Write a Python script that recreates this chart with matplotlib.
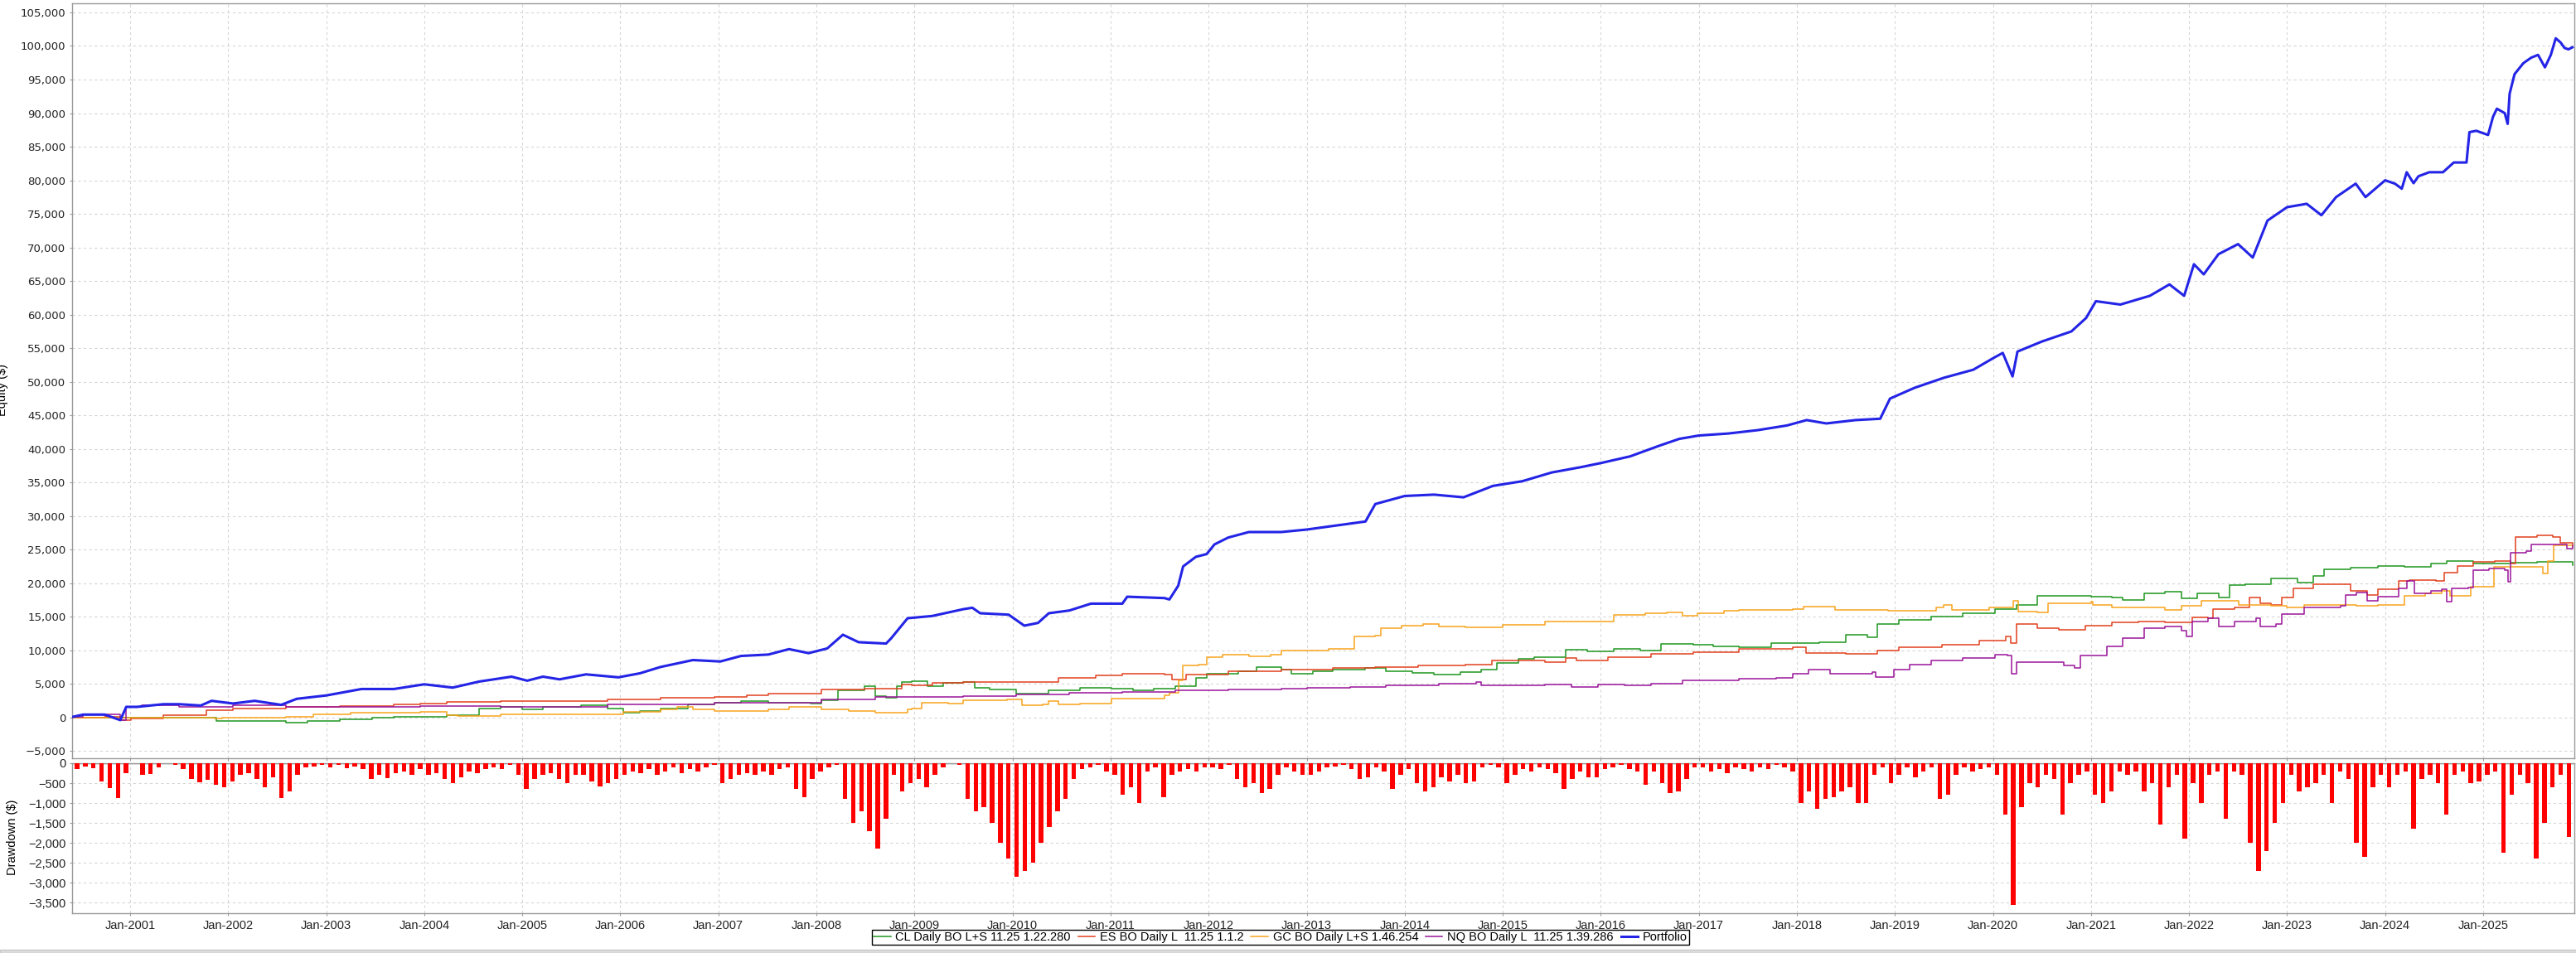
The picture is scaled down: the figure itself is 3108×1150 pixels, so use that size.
import numpy as np
import matplotlib
matplotlib.use('Agg')
import matplotlib.pyplot as plt
import matplotlib.ticker as ticker
from matplotlib.lines import Line2D
from matplotlib.patches import Rectangle

plt.rcParams['font.family'] = ['Liberation Sans', 'DejaVu Sans']

# ---- equity curves (decimal year, $) ----
cl_x = [2000.41, 2001.86, 2001.88, 2002.27, 2002.59, 2002.81, 2003.14, 2003.47, 2003.69, 2004.23,
        2004.56, 2004.78, 2005.0, 2005.21, 2005.6, 2005.87, 2006.03, 2006.2, 2006.41, 2006.69,
        2006.96, 2007.23, 2007.51, 2007.94, 2008.05, 2008.22, 2008.49, 2008.6, 2008.71, 2008.82,
        2008.87, 2008.97, 2009.13, 2009.29, 2009.5, 2009.61, 2009.77, 2010.04, 2010.37, 2010.69,
        2011.01, 2011.23, 2011.44, 2011.66, 2011.87, 2011.98, 2012.3, 2012.49, 2012.74, 2012.84,
        2013.06, 2013.27, 2013.6, 2013.81, 2014.08, 2014.3, 2014.57, 2014.78, 2014.94, 2015.16,
        2015.32, 2015.64, 2015.86, 2016.13, 2016.4, 2016.61, 2016.94, 2017.15, 2017.41, 2017.74,
        2018.23, 2018.5, 2018.72, 2018.82, 2019.04, 2019.37, 2019.69, 2020.02, 2020.24, 2020.45,
        2021.0, 2021.21, 2021.32, 2021.54, 2021.75, 2021.92, 2022.08, 2022.3, 2022.41, 2022.57,
        2022.84, 2023.11, 2023.27, 2023.38, 2023.65, 2023.93, 2024.2, 2024.47, 2024.63, 2024.9,
        2025.28, 2025.55, 2025.91]
cl_y = [0, 0, -450, -530, -780, -450, -250, 0, 80, 370,
        1400, 1600, 1190, 1600, 1890, 1400, 780, 980, 1400, 2010,
        2210, 2420, 2210, 2090, 2620, 4060, 4670, 3240, 2910, 4670,
        5290, 5370, 4670, 5210, 5290, 4470, 4140, 3570, 4060, 4470,
        4260, 4060, 4260, 4670, 5900, 6520, 6850, 7540, 7130, 6520,
        6930, 7130, 7340, 6850, 6600, 6440, 6720, 7130, 8160, 8770,
        8980, 10130, 9880, 10200, 10000, 11030, 10820, 10620, 10450, 11150,
        11270, 12300, 11970, 13940, 14550, 15090, 15580, 16200, 16810, 18120,
        18040, 17840, 17550, 18450, 18780, 17710, 18450, 17920, 19680, 19800,
        20710, 20090, 21120, 22020, 22350, 22630, 22470, 22960, 23290, 22960,
        23040, 23170, 22670]

es_x = [2000.41, 2000.74, 2000.9, 2001.01, 2001.34, 2001.78, 2002.05, 2002.59, 2003.14, 2003.69,
        2003.96, 2004.23, 2004.78, 2005.32, 2005.87, 2006.41, 2006.96, 2007.29, 2007.51, 2008.05,
        2008.49, 2008.87, 2008.97, 2009.18, 2009.5, 2010.2, 2010.47, 2010.85, 2011.12, 2011.55,
        2011.63, 2011.77, 2012.2, 2012.74, 2013.27, 2013.7, 2014.14, 2014.62, 2014.89, 2015.43,
        2015.64, 2015.75, 2016.07, 2016.51, 2016.94, 2017.41, 2017.96, 2018.09, 2018.5, 2018.82,
        2019.04, 2019.48, 2019.86, 2020.13, 2020.18, 2020.24, 2020.45, 2020.67, 2020.94, 2021.21,
        2021.48, 2021.75, 2022.03, 2022.19, 2022.24, 2022.46, 2022.62, 2022.73, 2022.84, 2022.95,
        2023.06, 2023.27, 2023.55, 2023.65, 2023.82, 2023.93, 2024.14, 2024.25, 2024.52, 2024.6,
        2024.74, 2024.9, 2025.12, 2025.28, 2025.33, 2025.55, 2025.71, 2025.79, 2025.91]
es_y = [0, 100, -370, -100, 370, 1100, 1400, 1600, 1760, 1930,
        2090, 2340, 2420, 2500, 2670, 2950, 3100, 3320, 3570, 4140,
        4350, 4880, 4800, 5210, 5290, 5290, 5900, 6310, 6520, 6440,
        5700, 6440, 6850, 7130, 7340, 7540, 7750, 7950, 8570, 8240,
        8900, 8570, 8980, 9470, 9800, 10200, 10450, 9640, 9510, 10040,
        10450, 10870, 11480, 12100, 11150, 13940, 13330, 13120, 13740, 14150,
        14350, 14150, 14970, 14760, 16200, 16400, 17840, 17020, 16810, 17840,
        19270, 19880, 19880, 18860, 18250, 19060, 20300, 20500, 20300, 21530,
        22550, 23250, 23370, 23000, 26860, 27140, 26860, 26040, 25830]

gc_x = [2000.41, 2001.86, 2001.94, 2002.59, 2002.87, 2003.25, 2003.69, 2003.96, 2004.23, 2004.34,
        2004.78, 2005.87, 2006.03, 2006.41, 2006.58, 2006.74, 2006.96, 2007.51, 2007.72, 2008.05,
        2008.33, 2008.6, 2008.87, 2008.93, 2008.97, 2009.07, 2009.34, 2009.5, 2009.94, 2010.1,
        2010.31, 2010.37, 2010.47, 2010.69, 2011.01, 2011.55, 2011.6, 2011.69, 2011.74, 2011.9,
        2011.98, 2012.14, 2012.41, 2012.63, 2012.74, 2013.22, 2013.46, 2013.49, 2013.7, 2013.76,
        2013.97, 2014.19, 2014.35, 2014.62, 2015.0, 2015.43, 2015.97, 2016.13, 2016.45, 2016.67,
        2016.83, 2016.99, 2017.26, 2017.41, 2017.96, 2018.07, 2018.39, 2018.93, 2019.42, 2019.5,
        2019.58, 2019.96, 2020.21, 2020.26, 2020.45, 2020.56, 2021.0, 2021.02, 2021.21, 2021.7,
        2021.75, 2021.92, 2022.13, 2022.41, 2022.51, 2022.84, 2023.0, 2023.17, 2023.71, 2023.93,
        2024.14, 2024.2, 2024.41, 2024.58, 2024.66, 2024.85, 2024.87, 2025.06, 2025.11, 2025.5,
        2025.61, 2025.66, 2025.72, 2025.91]
gc_y = [0, -160, 0, 80, 450, 780, 700, 900, 370, 250,
        450, 490, 900, 1190, 1600, 1190, 980, 1190, 1600, 1190,
        980, 780, 780, 1270, 1390, 2210, 2090, 2620, 2750, 1800,
        2010, 2420, 1930, 2090, 2830, 3320, 3650, 5490, 7750, 7950,
        8980, 9390, 9180, 9390, 10000, 10290, 10200, 12050, 12260, 13280,
        13690, 13900, 13570, 13490, 13780, 14310, 14310, 15340, 15540, 15620,
        15210, 15540, 15950, 15990, 16200, 16480, 15990, 15910, 16400, 16730,
        16070, 16400, 17430, 15790, 15660, 17020, 17220, 16730, 16400, 16400,
        15990, 16600, 17430, 17430, 16810, 16600, 16400, 16810, 16600, 16810,
        16810, 18120, 18450, 18860, 18120, 18120, 19470, 19470, 22470, 22470,
        21520, 23370, 25620, 25420]

nq_x = [2000.41, 2000.52, 2000.74, 2000.9, 2000.96, 2001.12, 2001.5, 2002.05, 2002.59, 2003.96,
        2004.78, 2005.87, 2006.96, 2008.05, 2008.6, 2009.5, 2010.04, 2010.58, 2011.12, 2011.66,
        2012.2, 2012.74, 2013.0, 2013.44, 2013.81, 2014.35, 2014.73, 2014.78, 2015.32, 2015.43,
        2015.7, 2015.97, 2016.24, 2016.51, 2016.83, 2017.41, 2017.79, 2017.96, 2018.12, 2018.26,
        2018.34, 2018.77, 2018.8, 2018.99, 2019.15, 2019.37, 2019.69, 2020.02, 2020.15, 2020.19,
        2020.24, 2020.45, 2020.72, 2020.83, 2020.89, 2021.05, 2021.16, 2021.32, 2021.54, 2021.75,
        2021.92, 2021.97, 2022.03, 2022.19, 2022.3, 2022.46, 2022.68, 2022.73, 2022.89, 2022.95,
        2023.17, 2023.55, 2023.6, 2023.71, 2023.82, 2023.93, 2024.14, 2024.22, 2024.3, 2024.47,
        2024.58, 2024.63, 2024.68, 2024.85, 2024.9, 2025.06, 2025.22, 2025.25, 2025.28, 2025.44,
        2025.49, 2025.77, 2025.85, 2025.91]
nq_y = [100, 450, 450, -370, 1600, 1800, 1600, 1800, 1600, 1760,
        1600, 1930, 2200, 2670, 3100, 3240, 3450, 3650, 3860, 4060,
        4180, 4260, 4470, 4550, 4760, 5080, 5290, 4800, 4800, 4960,
        4550, 4960, 4800, 5080, 5490, 5780, 5950, 6480, 7170, 7170,
        6480, 6770, 6070, 7170, 7870, 8530, 8820, 9430, 9230, 6560,
        8280, 8280, 7790, 7460, 9230, 9230, 10660, 11890, 13330, 13530,
        12920, 12100, 14350, 14760, 13530, 14350, 14760, 13530, 13940, 15380,
        16400, 16600, 18250, 18660, 17430, 18040, 19270, 20300, 18450, 18860,
        19060, 17220, 19270, 19350, 21930, 22220, 22000, 20170, 24600, 24800,
        25830, 25830, 25210, 25620]

pf_x = [2000.41, 2000.52, 2000.74, 2000.9, 2000.96, 2001.07, 2001.34, 2001.5, 2001.72, 2001.83,
        2002.05, 2002.27, 2002.54, 2002.7, 2003.0, 2003.36, 2003.69, 2004.0, 2004.29, 2004.56,
        2004.89, 2005.05, 2005.21, 2005.38, 2005.65, 2005.98, 2006.2, 2006.41, 2006.74, 2007.02,
        2007.23, 2007.51, 2007.72, 2007.92, 2008.11, 2008.27, 2008.43, 2008.71, 2008.76, 2008.93,
        2009.18, 2009.5, 2009.59, 2009.67, 2009.96, 2010.12, 2010.26, 2010.37, 2010.58, 2010.8,
        2011.12, 2011.17, 2011.55, 2011.6, 2011.69, 2011.74, 2011.87, 2011.98, 2012.06, 2012.2,
        2012.41, 2012.74, 2013.0, 2013.3, 2013.6, 2013.7, 2014.0, 2014.3, 2014.6, 2014.9,
        2015.2, 2015.5, 2015.8, 2016.0, 2016.3, 2016.6, 2016.8, 2017.0, 2017.3, 2017.6,
        2017.9, 2018.1, 2018.3, 2018.6, 2018.85, 2018.95, 2019.2, 2019.5, 2019.8, 2020.0,
        2020.1, 2020.2, 2020.25, 2020.5, 2020.8, 2020.95, 2021.05, 2021.3, 2021.6, 2021.8,
        2021.95, 2022.05, 2022.15, 2022.3, 2022.5, 2022.65, 2022.8, 2023.0, 2023.2, 2023.35,
        2023.5, 2023.7, 2023.8, 2024.0, 2024.1, 2024.17, 2024.22, 2024.29, 2024.34, 2024.45,
        2024.59, 2024.7, 2024.83, 2024.86, 2024.93, 2025.05, 2025.1, 2025.14, 2025.22, 2025.25,
        2025.27, 2025.32, 2025.41, 2025.49, 2025.56, 2025.63, 2025.69, 2025.74, 2025.79, 2025.83,
        2025.87, 2025.91]
pf_y = [100, 450, 450, -370, 1600, 1600, 2000, 2000, 1800, 2500,
        2100, 2500, 1900, 2800, 3300, 4260, 4260, 4960, 4470, 5370,
        6100, 5500, 6100, 5700, 6440, 6000, 6600, 7540, 8570, 8360,
        9180, 9390, 10200, 9600, 10300, 12340, 11230, 11030, 11770, 14800,
        15130, 16150, 16360, 15540, 15330, 13690, 14100, 15540, 15950, 16970,
        16970, 18000, 17800, 17590, 19640, 22510, 23940, 24350, 25790, 26810,
        27630, 27630, 28000, 28600, 29200, 31800, 33000, 33200, 32800, 34500,
        35200, 36500, 37300, 37900, 38900, 40500, 41500, 42000, 42300, 42800,
        43500, 44300, 43800, 44300, 44500, 47500, 49100, 50600, 51800, 53500,
        54300, 50800, 54500, 56000, 57500, 59500, 62000, 61500, 62800, 64500,
        62800, 67500, 66000, 69000, 70500, 68500, 74000, 76000, 76500, 74800,
        77500, 79500, 77500, 80000, 79500, 78750, 81200, 79570, 80600, 81200,
        81200, 82650, 82650, 87170, 87370, 86750, 89430, 90660, 90000, 88400,
        92900, 95800, 97440, 98260, 98670, 96820, 98670, 101140, 100520, 99700,
        99500, 99800]

# ---- monthly drawdown, Jun-2000 .. Nov-2025 ----
drawdown = [
    -150, -80, -120, -450, -620, -880, -250,                                    # 2000 Jun-Dec
    0, -300, -280, -100, 0, -50, -150, -400, -480, -420, -550, -600,            # 2001
    -450, -300, -250, -400, -600, -350, -880, -700, -300, -100, -80, -50,       # 2002
    -100, -50, -120, -80, -150, -400, -300, -380, -250, -200, -300, -150,       # 2003
    -300, -250, -400, -500, -350, -200, -250, -150, -100, -150, -50, -300,      # 2004
    -650, -400, -300, -250, -400, -500, -300, -300, -450, -580, -500, -400,     # 2005
    -300, -200, -250, -150, -300, -200, -100, -250, -150, -200, -100, -50,      # 2006
    -500, -400, -300, -250, -300, -200, -300, -150, -100, -650, -850, -400,     # 2007
    -200, -100, -50, -900, -1500, -1200, -1700, -2150, -1400, -300, -700, -500, # 2008
    -400, -600, -300, -100, 0, -50, -900, -1200, -1100, -1500, -2000, -2400,    # 2009
    -2850, -2700, -2500, -2000, -1600, -1200, -900, -400, -150, -100, -50, -200,  # 2010
    -300, -800, -600, -1000, -200, -100, -850, -300, -200, -150, -200, -100,    # 2011
    -100, -150, -50, -400, -600, -500, -750, -650, -300, -100, -200, -300,      # 2012
    -300, -200, -100, -80, -50, -150, -400, -350, -100, -200, -650, -300,       # 2013
    -150, -500, -710, -600, -350, -450, -300, -500, -450, -100, -50, -100,      # 2014
    -500, -300, -150, -200, -100, -150, -250, -650, -400, -200, -350, -350,     # 2015
    -150, -100, -50, -150, -200, -550, -200, -500, -750, -700, -400, -100,      # 2016
    -100, -200, -150, -250, -100, -150, -200, -100, -150, -50, -100, -200,      # 2017
    -1000, -700, -1150, -900, -850, -700, -600, -1000, -1000, -300, -100, -500, # 2018
    -300, -100, -350, -200, -100, -900, -800, -300, -100, -200, -150, -100,     # 2019
    -300, -1300, -3570, -1100, -500, -600, -300, -400, -1300, -500, -300, -200, # 2020
    -800, -1000, -700, -200, -300, -200, -700, -500, -1550, -600, -300, -1900,  # 2021
    -500, -1000, -300, -200, -1400, -200, -300, -2000, -2700, -2200, -1500, -1000,  # 2022
    -300, -700, -600, -500, -300, -1000, -200, -400, -2000, -2350, -600, -300,  # 2023
    -600, -300, -200, -1650, -400, -300, -500, -1300, -300, -200, -500, -450,   # 2024
    -300, -200, -2250, -800, -300, -500, -2400, -1500, -600, -300, -1850,       # 2025 Jan-Nov
]
dd_x = 2000 + (5 + np.arange(len(drawdown)) + 0.5) / 12.0

labels = ['CL Daily BO L+S 11.25 1.22.280', 'ES BO Daily L  11.25 1.1.2',
          'GC BO Daily L+S 1.46.254', 'NQ BO Daily L  11.25 1.39.286', 'Portfolio']
colors = ['#1e961e', '#e2401c', '#f9a31c', '#9a159a', '#2424e6']
years = list(range(2001, 2026))

W, H = 3108, 1150
fig = plt.figure(figsize=(W / 100, H / 100), dpi=100)
fig.patch.set_facecolor('white')

ax = fig.add_axes([87 / W, 1 - 915 / H, (3106 - 87) / W, (915 - 4) / H])
ax2 = fig.add_axes([87 / W, 1 - 1102 / H, (3106 - 87) / W, (1102 - 921) / H], sharex=ax)

series = [(cl_x, cl_y), (es_x, es_y), (gc_x, gc_y), (nq_x, nq_y)]
for (xs, ys), c in zip(series, colors[:4]):
    ax.plot(xs, ys, color=c, lw=1.1, drawstyle='steps-post', zorder=3)
ax.plot(pf_x, pf_y, color=colors[4], lw=2.2, zorder=4)

ax2.bar(dd_x, drawdown, width=0.55 / 12, color='#ff0000', edgecolor='none', align='center', zorder=3)
ax2.axhline(0, color='#a0a0a0', lw=1.0, zorder=2)

ax.set_xlim(2000.408, 2025.93)
ax.set_ylim(-6050, 106350)
ax2.set_ylim(-3770, 0)

grid_kw = dict(color='#d6d6d6', linestyle=(0, (3, 3)), lw=0.8)
for a in (ax, ax2):
    a.grid(True, **grid_kw)
    a.set_axisbelow(True)
    for s in a.spines.values():
        s.set_color('#999999')
        s.set_linewidth(1.0)
    a.tick_params(length=2, color='#999999', labelcolor='#222222')

ax.set_yticks(range(-5000, 105001, 5000))
ax.yaxis.set_major_formatter(ticker.StrMethodFormatter('{x:,.0f}'))
for t in ax.get_yticklabels():
    t.set_fontfamily('DejaVu Sans')
    t.set_fontsize(9.5)
ax.tick_params(axis='x', labelbottom=False)

ax2.set_yticks(range(-3500, 1, 500))
ax2.yaxis.set_major_formatter(ticker.StrMethodFormatter('{x:,.0f}'))
ax2.tick_params(axis='y', labelsize=10.5)
ax2.set_xticks(years)
ax2.set_xticklabels(['Jan-%d' % y for y in years], fontsize=10.5)

fig.text(3 / W, 1 - 470 / H, 'Equity ($)', rotation=90, ha='center', va='center', fontsize=10.5)
fig.text(15 / W, 1 - 1010 / H, 'Drawdown ($)', rotation=90, ha='center', va='center', fontsize=10.5)

handles = [Line2D([], [], color=c, lw=2.2 if i == 4 else 1.1) for i, c in enumerate(colors)]
leg = fig.legend(handles, labels, loc='center', bbox_to_anchor=(1545 / W, 1 - 1131 / H), ncol=5,
                 fontsize=10.5, frameon=True, fancybox=False, edgecolor='black', framealpha=1,
                 handlelength=1.4, handletextpad=0.4, columnspacing=0.6, borderpad=0.15)
leg.get_frame().set_linewidth(1.0)

# grey strip at the very bottom of the window
fig.patches.append(Rectangle((0, 0), 1, 4 / H, transform=fig.transFigure,
                             facecolor='#dcdcdc', edgecolor='#c8c8c8', lw=1))

fig.savefig('out.png', dpi=100)
